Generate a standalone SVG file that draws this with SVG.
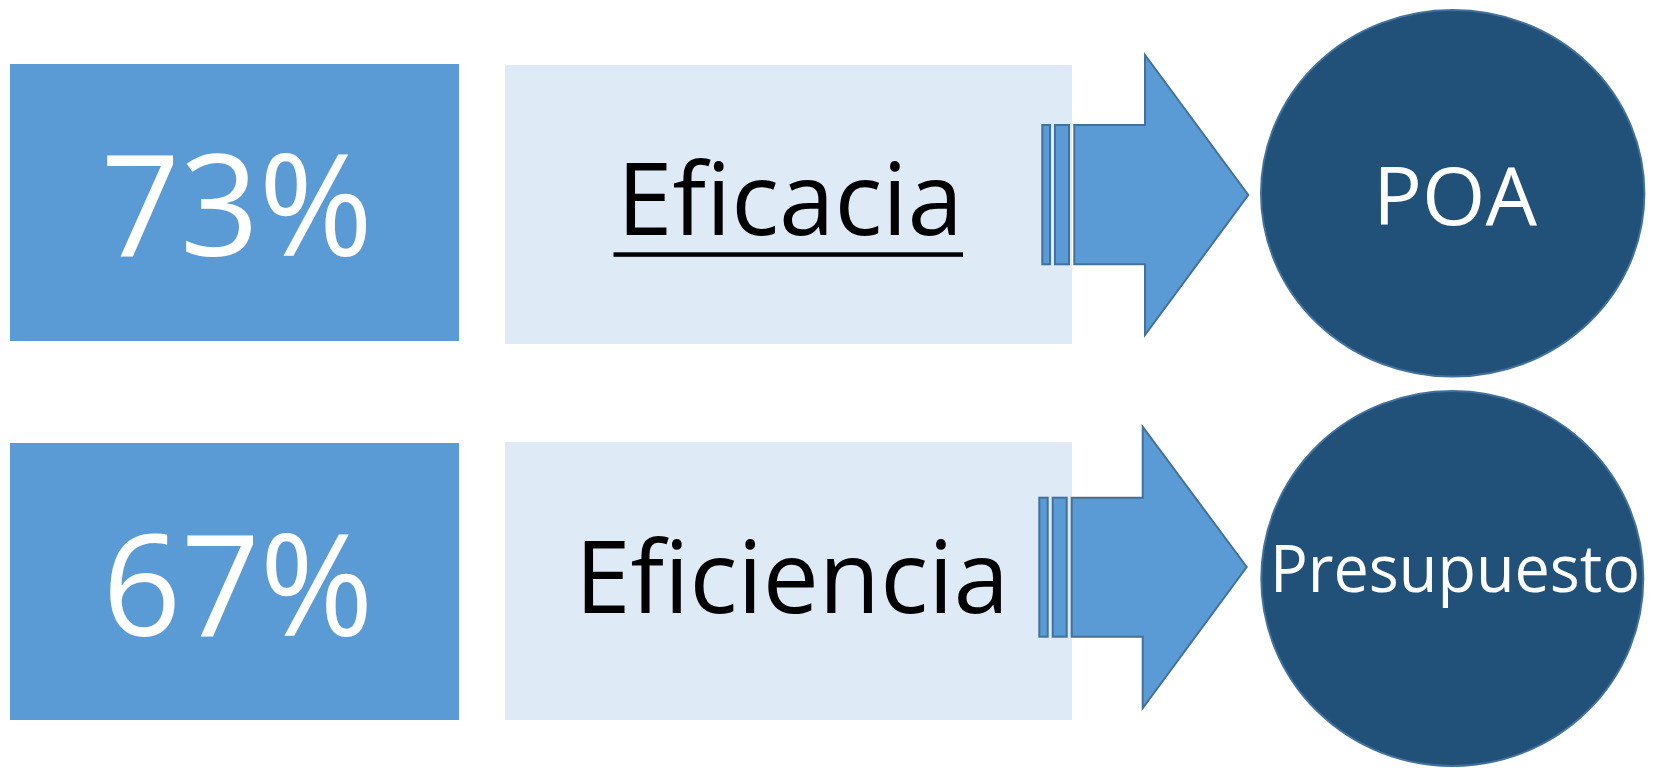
<svg xmlns="http://www.w3.org/2000/svg" width="1656" height="768" viewBox="0 0 1656 768">
<style>
.val{fill:#5B9BD5}
.lbl{fill:#DEEAF6}
.circ{fill:#215078;stroke:#41719C;stroke-width:2}
.arr{fill:#5B9BD5;stroke:#41719C;stroke-width:2}
text{font-family:"Open Sans","Noto Sans",sans-serif}
.wt{fill:#FFFFFF}
.bk{fill:#000000}
</style>
<rect width="1656" height="768" fill="#FFFFFF"/>
<g id="val73">
<rect class="val" x="10" y="64" width="449" height="277"/>
<text class="wt" x="237" y="256" font-size="141" text-anchor="middle" textLength="272" lengthAdjust="spacingAndGlyphs">73%</text>
</g>
<g id="eficacia">
<rect class="lbl" x="505" y="65" width="567" height="279"/>
<text class="bk" x="790" y="234.5" font-size="101" text-anchor="middle" textLength="346" lengthAdjust="spacingAndGlyphs">Eficacia</text>
<rect class="bk" x="613.5" y="252.3" width="349.5" height="4.5"/>
</g>
<g id="val67">
<rect class="val" x="10" y="443" width="449" height="277"/>
<text class="wt" x="238" y="636" font-size="141" text-anchor="middle" textLength="271" lengthAdjust="spacingAndGlyphs">67%</text>
</g>
<g id="eficiencia">
<rect class="lbl" x="505" y="442" width="567" height="278"/>
<text class="bk" x="792" y="612.5" font-size="100" text-anchor="middle" textLength="434" lengthAdjust="spacingAndGlyphs">Eficiencia</text>
</g>
<g id="connectors">
<rect class="arr" x="1042.3" y="125" width="7.7" height="139.3"/>
<rect class="arr" x="1055" y="125" width="14" height="139.3"/>
<path class="arr" d="M1074.3,125 H1145 V55 L1248.3,195 L1145,335 V264.3 H1074.3 Z"/>
<rect class="arr" x="1039.3" y="497.7" width="8.4" height="139"/>
<rect class="arr" x="1052.7" y="497.7" width="14" height="139"/>
<path class="arr" d="M1071.7,497.7 H1142.7 V426.7 L1246.7,567 L1142.7,708.3 V636.7 H1071.7 Z"/>
</g>
<g id="poa">
<ellipse class="circ" cx="1452.7" cy="193.3" rx="191.7" ry="183.3"/>
<text class="wt" x="1455" y="225" font-size="81" text-anchor="middle" textLength="164" lengthAdjust="spacingAndGlyphs">POA</text>
</g>
<g id="presupuesto">
<ellipse class="circ" cx="1452.3" cy="578.5" rx="191" ry="187.5"/>
<text class="wt" x="1455" y="591.7" font-size="65" text-anchor="middle" textLength="370" lengthAdjust="spacingAndGlyphs">Presupuesto</text>
</g>
</svg>
